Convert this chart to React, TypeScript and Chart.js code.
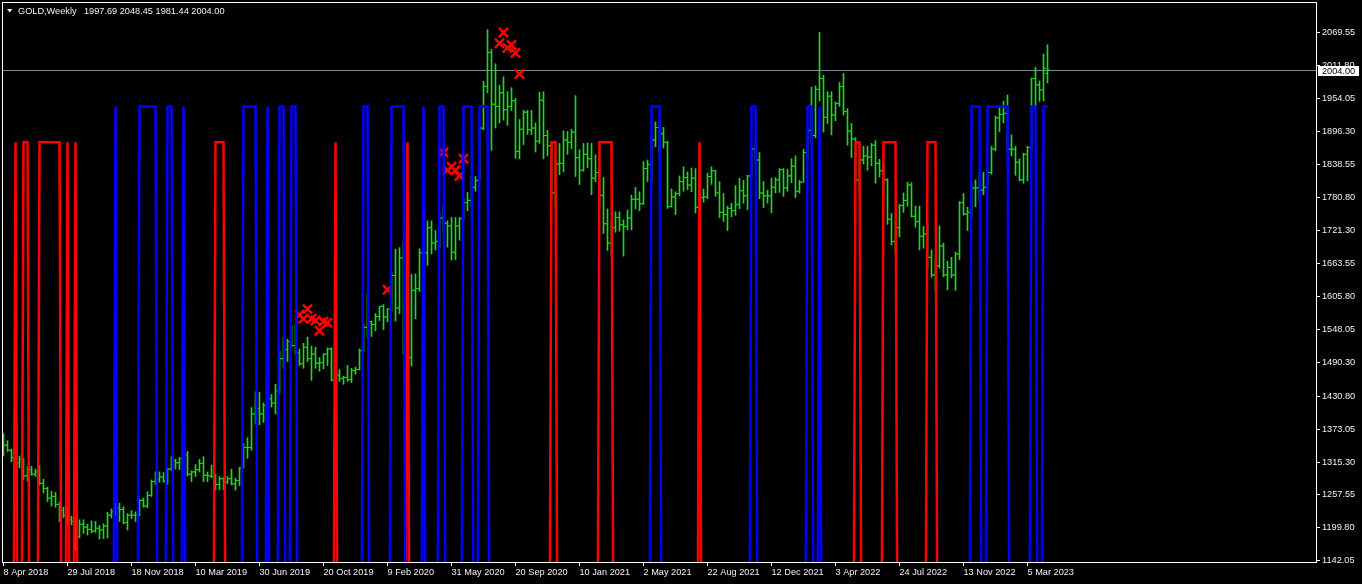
import { useEffect, useRef } from "react";
import { Chart, registerables } from "chart.js";

Chart.register(...registerables);

// weekly bars, index 0 = week of 8 Apr 2018, last = week of 9 Apr 2023
const OPEN = [
  1332, 1345, 1336, 1323, 1314, 1319, 1291, 1302, 1294, 1298,
  1278, 1269, 1252, 1255, 1241, 1231, 1222, 1214, 1211, 1184,
  1206, 1201, 1197, 1194, 1199, 1196, 1203, 1222, 1228, 1235,
  1232, 1209, 1222, 1222, 1222, 1248, 1238, 1257, 1281, 1285,
  1289, 1282, 1303, 1318, 1314, 1322, 1328, 1294, 1298, 1302,
  1313, 1292, 1291, 1290, 1276, 1286, 1280, 1286, 1277, 1283,
  1305, 1341, 1341, 1400, 1409, 1400, 1415, 1426, 1419, 1440,
  1497, 1513, 1527, 1520, 1507, 1488, 1517, 1497, 1505, 1489,
  1490, 1505, 1514, 1459, 1468, 1462, 1464, 1460, 1476, 1478,
  1511, 1552, 1562, 1557, 1571, 1589, 1570, 1584, 1643, 1586,
  1674, 1530, 1499, 1617, 1620, 1683, 1683, 1727, 1700, 1703,
  1744, 1735, 1730, 1684, 1730, 1743, 1771, 1775, 1798, 1810,
  1902, 1975, 2035, 1944, 1940, 1964, 1934, 1940, 1950, 1861,
  1900, 1930, 1899, 1902, 1879, 1951, 1889, 1871, 1788, 1839,
  1840, 1881, 1877, 1895, 1850, 1828, 1856, 1848, 1814, 1824,
  1784, 1734, 1700, 1727, 1745, 1732, 1729, 1744, 1777, 1777,
  1769, 1831, 1838, 1881, 1903, 1892, 1877, 1764, 1781, 1787,
  1808, 1815, 1802, 1814, 1763, 1780, 1781, 1817, 1827, 1788,
  1754, 1750, 1761, 1757, 1768, 1792, 1783, 1818, 1865, 1846,
  1788, 1783, 1783, 1798, 1811, 1829, 1797, 1818, 1835, 1791,
  1807, 1859, 1898, 1889, 1970, 1989, 1921, 1958, 1925, 1945,
  1975, 1931, 1897, 1883, 1811, 1846, 1853, 1851, 1872, 1840,
  1827, 1811, 1742, 1703, 1727, 1766, 1775, 1802, 1747, 1738,
  1712, 1716, 1675, 1644, 1660, 1695, 1644, 1657, 1644, 1681,
  1771, 1751, 1754, 1797, 1797, 1793, 1798, 1824, 1865, 1920,
  1926, 1928, 1865, 1865, 1842, 1811, 1856, 1868, 1989, 1978,
  1969, 1997.69,
];

const HIGH = [
  1365, 1353, 1338, 1326, 1326, 1322, 1307, 1308, 1303, 1310,
  1285, 1271, 1264, 1262, 1245, 1236, 1236, 1220, 1219, 1214,
  1214, 1206, 1212, 1211, 1204, 1207, 1227, 1233, 1243, 1243,
  1237, 1225, 1230, 1228, 1250, 1252, 1263, 1284, 1298, 1298,
  1297, 1304, 1326, 1320, 1323, 1347, 1334, 1300, 1311, 1320,
  1325, 1298, 1310, 1294, 1290, 1288, 1290, 1303, 1287, 1306,
  1348, 1358, 1411, 1439, 1438, 1419, 1453, 1434, 1452, 1510,
  1535, 1531, 1555, 1557, 1514, 1524, 1535, 1519, 1517, 1499,
  1506, 1516, 1516, 1474, 1478, 1466, 1485, 1480, 1482, 1514,
  1557, 1611, 1563, 1576, 1589, 1592, 1585, 1649, 1689, 1692,
  1703, 1560, 1645, 1646, 1690, 1747, 1739, 1739, 1722, 1752,
  1765, 1739, 1745, 1745, 1745, 1780, 1789, 1818, 1817, 1906,
  1984, 2075, 2040, 2015, 1977, 1992, 1966, 1973, 1954, 1917,
  1933, 1933, 1933, 1911, 1965, 1966, 1898, 1876, 1848, 1875,
  1897, 1896, 1900, 1959, 1864, 1875, 1876, 1875, 1855, 1830,
  1815, 1760, 1740, 1755, 1755, 1741, 1758, 1784, 1798, 1790,
  1843, 1846, 1890, 1913, 1916, 1903, 1879, 1795, 1790, 1818,
  1834, 1825, 1832, 1831, 1782, 1795, 1823, 1834, 1828, 1808,
  1787, 1765, 1770, 1801, 1814, 1810, 1819, 1868, 1877, 1859,
  1808, 1793, 1814, 1815, 1831, 1831, 1830, 1848, 1853, 1810,
  1865, 1902, 1974, 1976, 2070, 1995, 1966, 1966, 1948, 1982,
  1998, 1936, 1910, 1885, 1849, 1870, 1870, 1875, 1880, 1847,
  1841, 1813, 1752, 1739, 1768, 1788, 1807, 1806, 1765, 1765,
  1729, 1735, 1688, 1675, 1730, 1700, 1668, 1675, 1684, 1773,
  1787, 1763, 1804, 1811, 1825, 1824, 1833, 1870, 1923, 1938,
  1949, 1960, 1890, 1870, 1848, 1858, 1870, 1990, 2009, 1985,
  2032, 2048.45,
];

const LOW = [
  1326, 1334, 1316, 1302, 1305, 1285, 1282, 1292, 1290, 1275,
  1261, 1246, 1238, 1236, 1211, 1218, 1204, 1205, 1160, 1182,
  1190, 1187, 1191, 1192, 1180, 1181, 1182, 1217, 1222, 1211,
  1207, 1196, 1216, 1211, 1221, 1236, 1235, 1255, 1276, 1280,
  1280, 1276, 1300, 1303, 1302, 1321, 1291, 1281, 1290, 1298,
  1281, 1281, 1288, 1266, 1267, 1267, 1277, 1275, 1266, 1274,
  1305, 1322, 1336, 1382, 1381, 1385, 1401, 1412, 1400, 1437,
  1480, 1492, 1517, 1504, 1485, 1480, 1492, 1459, 1480, 1475,
  1479, 1485, 1458, 1445, 1457, 1452, 1457, 1455, 1470, 1477,
  1509, 1535, 1536, 1546, 1564, 1548, 1562, 1580, 1563, 1576,
  1505, 1451, 1484, 1567, 1615, 1672, 1661, 1681, 1688, 1691,
  1718, 1693, 1670, 1671, 1705, 1742, 1757, 1765, 1791, 1808,
  1899, 1964, 1863, 1902, 1911, 1916, 1907, 1933, 1849, 1848,
  1873, 1891, 1891, 1860, 1875, 1848, 1853, 1775, 1765, 1820,
  1825, 1856, 1866, 1817, 1803, 1826, 1832, 1785, 1808, 1761,
  1717, 1687, 1677, 1719, 1721, 1677, 1723, 1723, 1760, 1757,
  1768, 1808, 1809, 1869, 1856, 1867, 1761, 1763, 1750, 1783,
  1791, 1794, 1790, 1753, 1677, 1772, 1778, 1803, 1782, 1745,
  1738, 1722, 1746, 1749, 1760, 1770, 1759, 1815, 1845, 1778,
  1762, 1770, 1753, 1788, 1789, 1782, 1791, 1806, 1780, 1788,
  1807, 1845, 1878, 1885, 1950, 1895, 1910, 1890, 1915, 1940,
  1925, 1872, 1850, 1808, 1787, 1839, 1828, 1836, 1805, 1816,
  1785, 1733, 1697, 1681, 1711, 1754, 1765, 1746, 1728, 1688,
  1691, 1654, 1640, 1615, 1656, 1641, 1618, 1639, 1617, 1671,
  1749, 1722, 1745, 1764, 1775, 1785, 1795, 1821, 1862, 1896,
  1911, 1861, 1853, 1819, 1809, 1805, 1809, 1864, 1934, 1949,
  1950, 1981.44,
];

const CLOSE = [
  1345, 1336, 1323, 1314, 1319, 1291, 1302, 1294, 1298, 1278,
  1269, 1252, 1255, 1241, 1231, 1222, 1214, 1211, 1184, 1206,
  1201, 1197, 1194, 1199, 1196, 1203, 1222, 1228, 1235, 1232,
  1209, 1222, 1222, 1222, 1248, 1238, 1257, 1281, 1285, 1289,
  1282, 1303, 1318, 1314, 1322, 1328, 1294, 1298, 1302, 1313,
  1292, 1291, 1290, 1276, 1286, 1280, 1286, 1277, 1283, 1305,
  1341, 1341, 1400, 1409, 1400, 1415, 1426, 1419, 1440, 1497,
  1513, 1527, 1520, 1507, 1488, 1517, 1497, 1505, 1489, 1490,
  1505, 1514, 1459, 1468, 1462, 1464, 1460, 1476, 1478, 1511,
  1552, 1562, 1557, 1571, 1589, 1570, 1584, 1643, 1586, 1674,
  1530, 1499, 1617, 1620, 1683, 1683, 1727, 1700, 1703, 1744,
  1735, 1730, 1684, 1730, 1743, 1771, 1775, 1798, 1810, 1902,
  1975, 2035, 1944, 1940, 1964, 1934, 1940, 1950, 1861, 1900,
  1930, 1899, 1902, 1879, 1951, 1889, 1871, 1788, 1839, 1840,
  1881, 1877, 1895, 1850, 1828, 1856, 1848, 1814, 1824, 1784,
  1734, 1700, 1727, 1745, 1732, 1729, 1744, 1777, 1777, 1769,
  1831, 1838, 1881, 1903, 1892, 1877, 1764, 1781, 1787, 1808,
  1815, 1802, 1814, 1763, 1780, 1781, 1817, 1827, 1788, 1754,
  1750, 1761, 1757, 1768, 1792, 1783, 1818, 1865, 1846, 1788,
  1783, 1783, 1798, 1811, 1829, 1797, 1818, 1835, 1791, 1807,
  1859, 1898, 1889, 1970, 1989, 1921, 1958, 1925, 1945, 1975,
  1931, 1897, 1883, 1811, 1846, 1853, 1851, 1872, 1840, 1827,
  1811, 1742, 1703, 1727, 1766, 1775, 1802, 1747, 1738, 1712,
  1716, 1675, 1644, 1660, 1695, 1644, 1657, 1644, 1681, 1771,
  1751, 1754, 1797, 1797, 1793, 1798, 1824, 1865, 1920, 1926,
  1928, 1865, 1865, 1842, 1811, 1856, 1868, 1989, 1978, 1969,
  2007, 2004.0,
];

// time axis labels every 16 bars
const DATE_TICKS = [0, 16, 32, 48, 64, 80, 96, 112, 128, 144, 160, 176, 192, 208, 224, 240, 256];
const DATE_LABELS = [
  "8 Apr 2018", "29 Jul 2018", "18 Nov 2018", "10 Mar 2019", "30 Jun 2019",
  "20 Oct 2019", "9 Feb 2020", "31 May 2020", "20 Sep 2020", "10 Jan 2021",
  "2 May 2021", "22 Aug 2021", "12 Dec 2021", "3 Apr 2022", "24 Jul 2022",
  "13 Nov 2022", "5 Mar 2023",
];

const PRICE_TICKS = [
  2069.55, 2011.8, 1954.05, 1896.3, 1838.55, 1780.8, 1721.3, 1663.55, 1605.8,
  1548.05, 1490.3, 1430.8, 1373.05, 1315.3, 1257.55, 1199.8, 1142.05,
];

// indicator buffers: bars where the line sits at its level, else it drops to zero
const RED_LEVEL = 1877;
const BLUE_LEVEL = 1940;
const OFF_LEVEL = 0;
const RED_ON = [
  3, 5, 6, 9, 10, 11, 12, 13, 14, 16, 18, 53, 54, 55, 83, 101, 137, 138,
  149, 150, 151, 152, 174, 213, 214, 220, 221, 222, 223, 231, 232, 233,
];
const BLUE_ON = [
  28, 34, 35, 36, 37, 38, 41, 42, 45, 60, 61, 62, 63, 66, 69, 70, 72, 73,
  90, 91, 97, 98, 99, 100, 105, 109, 110, 115, 116, 117, 119, 120, 121,
  162, 163, 164, 187, 188, 201, 202, 204, 242, 243, 244,
  246, 247, 248, 249, 250, 251, 257, 258, 260, 261,
];

// red cross markers
const MARK_BARS = [74, 75, 76, 77, 78, 79, 80, 81, 96, 110, 111, 112, 113, 114, 115, 124, 125, 126, 127, 128, 129];
const MARK_PRICES = [1574, 1567, 1584, 1567, 1564, 1546, 1562, 1560, 1618, 1859, 1828, 1834, 1828, 1818, 1848, 2051, 2070, 2043, 2048, 2034, 1997];

const LAST_PRICE = 2004.0;
const HEADER_NAME = "GOLD,Weekly";
const HEADER_VALUES = "1997.69 2048.45 1981.44 2004.00";

const BAR_GREEN = "#22d622";
const TEXT = "#f2f2f2";
const FONT_FAMILY = '"Liberation Sans", Arial, sans-serif';
const FONT_SIZE = 9.2;

const mt4Frame = {
  id: "mt4Frame",
  beforeDatasetsDraw(chart: any) {
    const { ctx, chartArea: a, scales } = chart;
    const y = Math.round(scales.y.getPixelForValue(LAST_PRICE)) + 0.5;
    ctx.save();
    ctx.strokeStyle = "#778899";
    ctx.lineWidth = 1;
    ctx.beginPath();
    ctx.moveTo(a.left, y);
    ctx.lineTo(a.right, y);
    ctx.stroke();
    ctx.restore();
  },
  afterDraw(chart: any) {
    const { ctx, chartArea: a, scales } = chart;
    ctx.save();
    // frame
    ctx.strokeStyle = "#ffffff";
    ctx.lineWidth = 1;
    ctx.strokeRect(a.left + 0.5, a.top + 0.5, a.right - a.left - 1, a.bottom - a.top - 1);

    // header
    ctx.fillStyle = TEXT;
    ctx.beginPath();
    ctx.moveTo(7, 9);
    ctx.lineTo(12.5, 9);
    ctx.lineTo(9.75, 12.5);
    ctx.closePath();
    ctx.fill();
    ctx.font = `${FONT_SIZE}px ${FONT_FAMILY}`;
    ctx.textBaseline = "middle";
    ctx.textAlign = "left";
    ctx.fillText(HEADER_NAME, 18, 11);
    ctx.fillText(HEADER_VALUES, 84, 11);

    // current price box
    const py = Math.round(scales.y.getPixelForValue(LAST_PRICE));
    ctx.fillStyle = "#ffffff";
    ctx.fillRect(a.right + 1, py - 4, 41, 10);
    ctx.fillStyle = "#000000";
    ctx.fillText(LAST_PRICE.toFixed(2), a.right + 5, py + 1);
    ctx.restore();
  },
};

export default function App() {
  const canvasRef = useRef<HTMLCanvasElement>(null);
  const chartRef = useRef<Chart | null>(null);

  useEffect(() => {
    document.body.style.margin = "0";
    document.body.style.background = "#000";
    if (!canvasRef.current) return;
    if (chartRef.current) chartRef.current.destroy();

    const ranges = OPEN.map((_, i) => ({ x: i, y: [LOW[i], HIGH[i]] }));
    const openTicks = OPEN.map((v, i) => ({ x: i - 0.375, y: v }));
    const closeTicks = CLOSE.map((v, i) => ({ x: i + 0.375, y: v }));
    const redLine = OPEN.map((_, i) => ({ x: i, y: RED_ON.includes(i) ? RED_LEVEL : OFF_LEVEL }));
    const blueLine = OPEN.map((_, i) => ({ x: i, y: BLUE_ON.includes(i) ? BLUE_LEVEL : OFF_LEVEL }));
    const marks = MARK_BARS.map((b, k) => ({ x: b, y: MARK_PRICES[k] }));

    const font = { family: FONT_FAMILY, size: FONT_SIZE };

    chartRef.current = new Chart(canvasRef.current, {
      type: "bar",
      data: {
        datasets: [
          {
            type: "bar",
            data: ranges as any,
            backgroundColor: BAR_GREEN,
            borderWidth: 0,
            barThickness: 1,
            grouped: false,
            order: 5,
          },
          {
            type: "scatter",
            data: openTicks,
            pointStyle: "line",
            pointRadius: 1,
            pointBorderWidth: 1,
            pointBorderColor: BAR_GREEN,
            order: 4,
          },
          {
            type: "scatter",
            data: closeTicks,
            pointStyle: "line",
            pointRadius: 1,
            pointBorderWidth: 1,
            pointBorderColor: BAR_GREEN,
            order: 4,
          },
          {
            type: "scatter",
            data: marks,
            pointStyle: "crossRot",
            pointRadius: 6.5,
            pointBorderWidth: 2.5,
            pointBorderColor: "#ff0000",
            pointBackgroundColor: "#ff0000",
            order: 3,
          },
          {
            type: "line",
            data: redLine,
            borderColor: "#ff0000",
            borderWidth: 2.5,
            pointRadius: 0,
            tension: 0,
            clip: 0,
            order: 2,
          },
          {
            type: "line",
            data: blueLine,
            borderColor: "#0000ff",
            borderWidth: 2.5,
            pointRadius: 0,
            tension: 0,
            clip: 0,
            order: 1,
          },
        ],
      },
      options: {
        animation: false,
        responsive: false,
        devicePixelRatio: 1,
        events: [],
        layout: { autoPadding: false, padding: { left: 2, top: 2, right: 0, bottom: 0 } },
        plugins: {
          legend: { display: false },
          tooltip: { enabled: false },
        },
        scales: {
          x: {
            type: "linear",
            offset: false,
            min: -0.375,
            max: 328.375,
            afterBuildTicks: (s: any) => {
              s.ticks = DATE_TICKS.map((v) => ({ value: v }));
            },
            afterFit: (s: any) => {
              s.height = 21;
              s.paddingLeft = 0;
              s.paddingRight = 0;
            },
            ticks: {
              color: TEXT,
              font,
              align: "start",
              padding: 1,
              maxRotation: 0,
              autoSkip: false,
              callback: (_v: any, idx: number) => DATE_LABELS[idx],
            },
            grid: { offset: false, drawOnChartArea: false, drawTicks: true, tickLength: 3, color: "#ffffff" },
            border: { display: false },
          },
          y: {
            type: "linear",
            position: "right",
            min: 1138.03,
            max: 2123.48,
            afterBuildTicks: (s: any) => {
              s.ticks = PRICE_TICKS.map((v) => ({ value: v }));
            },
            afterFit: (s: any) => {
              s.width = 45;
              s.paddingTop = 0;
              s.paddingBottom = 0;
            },
            ticks: {
              color: TEXT,
              font,
              padding: 2,
              autoSkip: false,
              callback: (v: any) => Number(v).toFixed(2),
            },
            grid: { drawOnChartArea: false, drawTicks: true, tickLength: 3, color: "#ffffff" },
            border: { display: false },
          },
        },
      } as any,
      plugins: [mt4Frame],
    });

    return () => {
      if (chartRef.current) {
        chartRef.current.destroy();
        chartRef.current = null;
      }
    };
  }, []);

  return (
    <div style={{ width: 1362, height: 584, background: "#000" }}>
      <canvas ref={canvasRef} width={1362} height={584} style={{ display: "block" }} />
    </div>
  );
}
